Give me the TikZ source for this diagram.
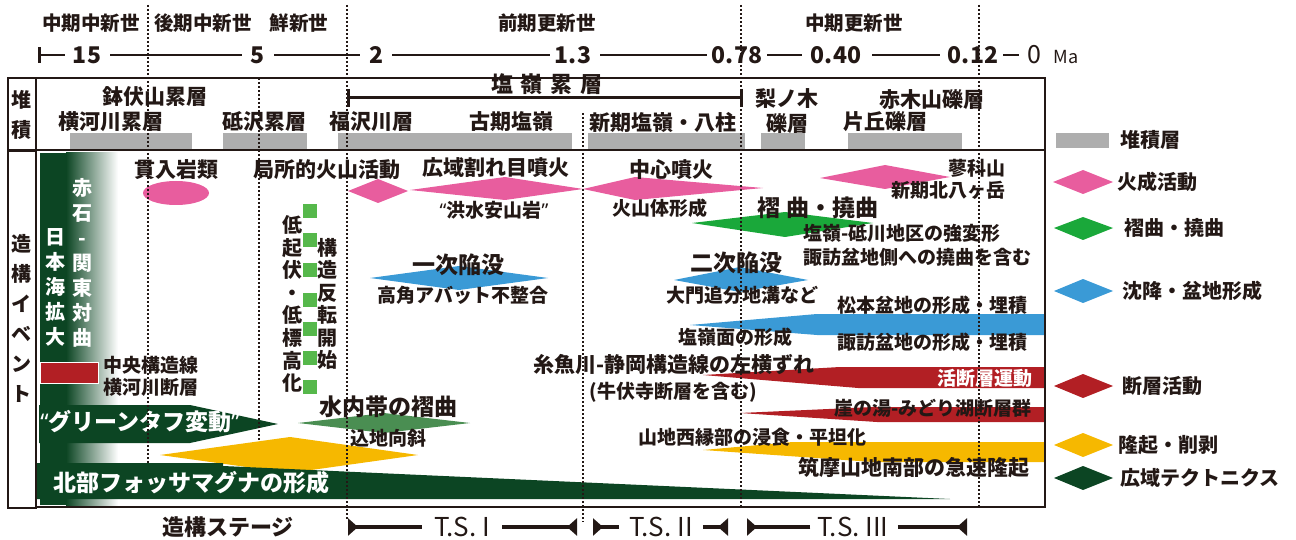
\documentclass[tikz,border=0pt]{standalone}
\usepackage{fontspec}
\setmainfont{Noto Sans CJK JP}
\newfontfamily\latq{Noto Sans}
\usetikzlibrary{arrows.meta}
\definecolor{ink}{HTML}{231815}
\definecolor{pinkc}{HTML}{E85D9E}
\definecolor{greenc}{HTML}{1AA83A}
\definecolor{bluec}{HTML}{3A9AD6}
\definecolor{redc}{HTML}{B21F24}
\definecolor{yellowc}{HTML}{F6B800}
\definecolor{dkgreen}{HTML}{0C4523}
\definecolor{midgreen}{HTML}{4A8E52}
\definecolor{sqgreen}{HTML}{56B84B}
\definecolor{greyc}{HTML}{AEAEAE}
\newcommand{\myLq}{{\latq\bfseries “}}
\newcommand{\myRq}{{\latq\bfseries ”}}
\begin{document}
\begin{tikzpicture}[x=1pt,y=-1pt,
  txt/.style={inner sep=0pt, text=ink, font=\fontsize{21}{24}\selectfont\bfseries},
  sm/.style={txt, font=\fontsize{19}{22}\selectfont\bfseries},
  bg/.style={txt, font=\fontsize{23}{26}\selectfont\bfseries},
  era/.style={txt, font=\fontsize{19.5}{22}\selectfont\bfseries},
  num/.style={txt, font=\fontsize{23}{24}\selectfont\bfseries},
  lg/.style={txt, font=\fontsize{20}{22}\selectfont\bfseries},
  wht/.style={text=white},
  vcol/.style={txt, align=center, font=\fontsize{20}{22.6}\selectfont\bfseries},
  dots/.style={ink, line width=1.2pt, dash pattern=on 2pt off 2pt},
  frame/.style={ink, line width=1.3pt},
  tl/.style={ink, line width=2pt},
  stg/.style={ink, line width=3.5pt, -{Triangle[reversed,length=10pt,width=17pt]}},
  ts/.style={txt, font=\fontsize{26}{28}\selectfont},
]
\useasboundingbox (0,0) rectangle (1296,540);

% ---------- era labels ----------
\node[era] (e1) at (91,23) {中期中新世};
\node[era] (e2) at (203,23) {後期中新世};
\node[era] (e3) at (299,23) {鮮新世};
\node[era] (e4) at (547,23) {前期更新世};
\node[era] (e5) at (854,23) {中期更新世};

% ---------- timeline ----------
\coordinate (t0) at (38,55);
\coordinate (t1) at (65,55);
\node[num] (n15) at (87,55) {15};
\node[num] (n5) at (258,55) {5};
\node[num] (n2) at (376,55) {2};
\node[num] (n13) at (573,55) {1.3};
\node[num] (n078) at (737,55) {0.78};
\node[num] (n040) at (836,55) {0.40};
\node[num] (n012) at (973,55) {0.12};
\node[num, font=\fontsize{25}{26}\selectfont] (n0) at (1034,55) {0};
\node[txt, font=\fontsize{18}{20}\selectfont] (ma) at (1066,57) {Ma};
\draw[tl, {Bar[width=16pt,line width=2.5pt]}-] (t0) -- (t1);
\draw[tl] ([xshift=9pt]n15.east) -- ([xshift=-9pt]n5.west);
\draw[tl] ([xshift=9pt]n5.east) -- ([xshift=-9pt]n2.west);
\draw[tl] ([xshift=9pt]n2.east) -- ([xshift=-5pt]n13.west);
\draw[tl] ([xshift=9pt]n13.east) -- ([xshift=-5pt]n078.west);
\draw[tl] ([xshift=5pt]n078.east) -- ([xshift=-9pt]n040.west);
\draw[tl] ([xshift=11pt]n040.east) -- ([xshift=-8pt]n012.west);
\draw[tl] ([xshift=5pt]n012.east) -- ([xshift=-8pt]n0.west);

% ---------- frames ----------
\draw[frame] (8,78) rectangle (36,150);
\draw[frame] (8,151) rectangle (36,508);
\node[vcol, align=center, font=\fontsize{20}{30}\selectfont\bfseries] (tai) at (22,115) {堆\\積};
\node[vcol, align=center, font=\fontsize{20}{30}\selectfont\bfseries] (zoko) at (22,318) {造\\構\\イ\\ベ\\ン\\ト};

% ---------- sediment row ----------
\node[bg, font=\fontsize{22}{24}\selectfont\bfseries] (shiomine) at (547,84) {塩\hspace{8pt}嶺\hspace{8pt}累\hspace{8pt}層};
\coordinate (brA) at (347,98);
\coordinate (brB) at (743,98);
\draw[ink, line width=3pt, {Bar[width=18pt,line width=3pt]}-{Bar[width=18pt,line width=3pt]}] (brA) -- (brB);
\node[txt] (hachi) at (155,97) {鉢伏山累層};
\node[txt] (yoko) at (111,122) {横河川累層};
\node[txt] (tozawa) at (264,122) {砥沢累層};
\node[txt] (fuku) at (371,122) {福沢川層};
\node[txt] (koki) at (511,122) {古期塩嶺};
\node[txt] (shinki) at (663,122) {新期塩嶺・八柱};
\node[txt, align=center, font=\fontsize{21}{25}\selectfont\bfseries] (nashi) at (787,111) {梨ノ木\\礫層};
\node[txt] (akagi) at (932,100) {赤木山礫層};
\node[txt] (kataoka) at (885,122) {片丘礫層};
\fill[greyc] (70,133) rectangle (192,149);
\fill[greyc] (223,133) rectangle (307,149);
\fill[greyc] (338,133) rectangle (572,149);
\fill[greyc] (588,133) rectangle (745,149);
\fill[greyc] (761,133) rectangle (805,149);
\fill[greyc] (848,133) rectangle (962,149);

% ---------- left green column ----------
\fill[dkgreen] (40,153) rectangle (66,505);
\shade[left color=dkgreen, right color=white] (66,153) rectangle (118,505);
\fill[redc, draw=white, line width=1pt] (40,362) rectangle (98,383);

% ---------- volcanic (pink) ----------
\fill[pinkc] (176,193) ellipse [x radius=33, y radius=12];
\fill[pinkc] (348,191) -- (378,179) -- (408,191) -- (378,203) -- cycle;
\fill[pinkc] (410,190) -- (505,177) -- (583,189) -- (505,200) -- cycle;
\fill[pinkc] (583,189) -- (635,177) -- (763,188) -- (635,200) -- cycle;
\fill[pinkc] (820,178) -- (885,165) -- (950,177) -- (885,189) -- cycle;

% ---------- folding (green) ----------
\fill[greenc] (692,223) -- (785,212) -- (873,223) -- (785,237) -- cycle;
\fill[midgreen] (298,423) -- (384,413) -- (470,423) -- (384,433) -- cycle;

% ---------- subsidence (blue) ----------
\fill[bluec] (370,278) -- (459,266) -- (548,278) -- (459,290) -- cycle;
\fill[bluec] (674,280) -- (740,267) -- (808,280) -- (740,292) -- cycle;
\fill[bluec] (690,325) -- (817,314) -- (1045,314) -- (1045,335) -- (817,335) -- cycle;

% ---------- faults (red) ----------
\fill[redc] (703,375) -- (840,367) -- (1045,367) -- (1045,388) -- (858,388) -- cycle;
\fill[redc] (740,413) -- (873,407) -- (1045,407) -- (1045,422) -- (877,422) -- cycle;

% ---------- uplift (yellow) ----------
\fill[yellowc] (703,450) -- (793,442) -- (1045,442) -- (1045,462) -- (873,462) -- cycle;
\fill[yellowc] (160,455) -- (290,437) -- (418,455) -- (290,473) -- cycle;

% ---------- regional tectonics (dark green) ----------
\fill[dkgreen] (39,405) -- (190,405) -- (278,424) -- (190,443) -- (39,443) -- cycle;
\fill[dkgreen] (37,463) -- (223,463) -- (223,466) -- (950,499) -- (37,499) -- cycle;

% ---------- green squares ----------
\foreach \yy in {211,240,270,300,329,358,387}
  \fill[sqgreen] (303,\yy-7) rectangle (317,\yy+7);

% ---------- event texts ----------
\node[vcol, wht, font=\fontsize{20}{25}\selectfont\bfseries] (akaishi) at (82,262.5) {赤\\石\\-\\関\\東\\対\\曲};
\node[vcol, wht, font=\fontsize{20}{25.2}\selectfont\bfseries] (nihonkai) at (55,287.5) {日\\本\\海\\拡\\大};
\node[sm, anchor=west, align=left] (chuo) at (103,376) {中央構造線\\横河川断層};
\node[vcol] (teiki) at (292,304) {低\\起\\伏\\・\\低\\標\\高\\化};
\node[vcol, font=\fontsize{20}{22.4}\selectfont\bfseries] (kouzou) at (327,304) {構\\造\\反\\転\\開\\始};

\node[txt] (kannyu) at (176,170) {貫入岩類};
\node[txt] (kyoku) at (327,170) {局所的火山活動};
\node[txt] (koiki) at (496,168) {広域割れ目噴火};
\node[sm] (kozui) at (494,210) {\myLq 洪水安山岩\myRq};
\node[txt] (chushin) at (671,170) {中心噴火};
\node[sm] (kazan) at (660,208) {火山体形成};
\node[sm] (tate) at (977,168) {蓼科山};
\node[sm] (kita) at (948,190) {新期北八ヶ岳};
\node[bg] (ichiji) at (458,265) {一次陥没};
\node[sm] (koukaku) at (463,295) {高角アバット不整合};
\node[bg] (niji) at (736,263) {二次陥没};
\node[sm] (daimon) at (742,295) {大門追分地溝など};
\node[bg] (shukyoku) at (818,208) {褶\hspace{6pt}曲・撓曲};
\node[sm, anchor=west] (shiotoga) at (803,233) {塩嶺-砥川地区の強変形};
\node[sm, anchor=west] (suwatou) at (803,257) {諏訪盆地側への撓曲を含む};
\node[sm, anchor=west] (matsu) at (837,305) {松本盆地の形成・埋積};
\node[sm] (men) at (735,337) {塩嶺面の形成};
\node[sm, anchor=west] (suwabon) at (837,342) {諏訪盆地の形成・埋積};
\node[txt] (itoi) at (674,365) {糸魚川-静岡構造線の左横ずれ};
\node[sm] (gyu) at (673,392) {(牛伏寺断層を含む)};
\node[sm, wht] (katsu) at (985,378) {活断層運動};
\node[sm] (gake) at (933,408) {崖の湯-みどり湖断層群};
\node[sm] (sanchi) at (752,437) {山地西縁部の浸食・平坦化};
\node[txt] (chikuma) at (914,468) {筑摩山地南部の急速隆起};
\node[bg, wht] (hokubu) at (191,483) {北部フォッサマグナの形成};
\node[bg, wht] (gtuff) at (140,422) {\myLq グリーンタフ変動\myRq};
\node[bg] (minochi) at (388,407) {水内帯の褶曲};
\node[sm] (komi) at (388,438) {込地向斜};

% ---------- dotted time lines ----------
\coordinate (d1a) at (148,5);   \coordinate (d1b) at (148,463);
\coordinate (d2a) at (259,78);  \coordinate (d2b) at (259,440);
\coordinate (d3a) at (347,5);   \coordinate (d3b) at (347,520);
\coordinate (d4a) at (583,113); \coordinate (d4b) at (583,522);
\coordinate (d5a) at (741,5);   \coordinate (d5b) at (741,507);
\coordinate (d6a) at (979,5);   \coordinate (d6b) at (979,507);
\draw[dots] (d1a) -- (d1b);
\draw[dots] (d2a) -- (d2b);
\draw[dots] (d3a) -- (d3b);
\draw[dots] (d4a) -- (d4b);
\draw[dots] (d5a) -- (d5b);
\draw[dots] (d6a) -- (d6b);

% main frame
\draw[frame] (36,78) rectangle (1045,507);
\draw[frame] (36,150) -- (1045,150);

% ---------- tectonic stages ----------
\node[bg, font=\fontsize{22}{24}\selectfont\bfseries] (stage) at (228,527) {造構ステージ};
\node[ts] (ts1) at (462,527) {T.S. I};
\node[ts] (ts2) at (661,527) {T.S. II};
\node[ts] (ts3) at (853,527) {T.S. III};
\coordinate (s1a) at (348,527); \coordinate (s1b) at (577,527);
\coordinate (s2a) at (593,527); \coordinate (s2b) at (728,527);
\coordinate (s3a) at (747,527); \coordinate (s3b) at (967,527);
\draw[stg] ([xshift=-12pt]ts1.west) -- (s1a);
\draw[stg] ([xshift=12pt]ts1.east) -- (s1b);
\draw[stg] ([xshift=-10pt]ts2.west) -- (s2a);
\draw[stg] ([xshift=10pt]ts2.east) -- (s2b);
\draw[stg] ([xshift=-7pt]ts3.west) -- (s3a);
\draw[stg] ([xshift=9pt]ts3.east) -- (s3b);

% ---------- legend ----------
\fill[greyc] (1056,133) rectangle (1109,148);
\node[lg] (lgsed) at (1150,140) {堆積層};
\fill[pinkc] (1053,182) -- (1083,170) -- (1113,182) -- (1083,194) -- cycle;
\node[lg] (lgvol) at (1157,182) {火成活動};
\fill[greenc] (1054,228) -- (1083,217) -- (1113,228) -- (1083,240) -- cycle;
\node[lg] (lgfold) at (1174,228) {褶曲・撓曲};
\fill[bluec] (1054,291) -- (1083,279) -- (1113,291) -- (1083,303) -- cycle;
\node[lg] (lgsub) at (1192,291) {沈降・盆地形成};
\fill[redc] (1054,386) -- (1083,374) -- (1113,386) -- (1083,398) -- cycle;
\node[lg] (lgflt) at (1162,386) {断層活動};
\fill[yellowc] (1054,445) -- (1083,433) -- (1113,445) -- (1083,457) -- cycle;
\node[lg] (lgup) at (1168,445) {隆起・削剥};
\fill[dkgreen] (1054,478) -- (1083,466) -- (1113,478) -- (1083,490) -- cycle;
\node[lg] (lgreg) at (1200,478) {広域テクトニクス};
\end{tikzpicture}
\end{document}
